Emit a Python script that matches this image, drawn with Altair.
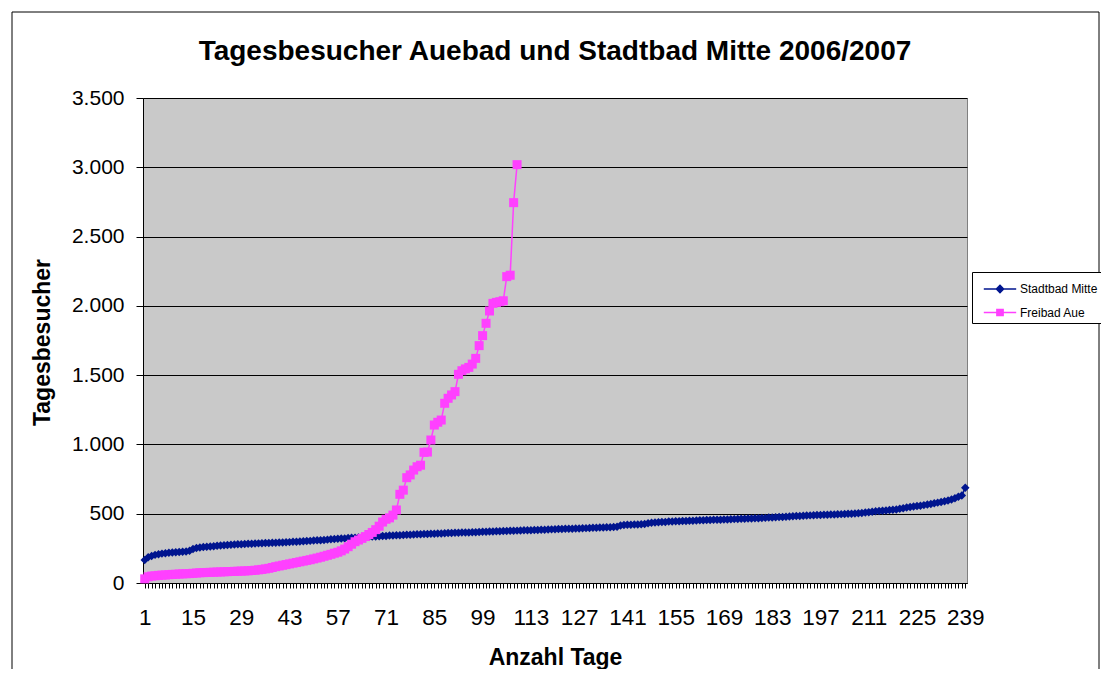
import altair as alt
import pandas as pd

series_names = ["Stadtbad Mitte", "Freibad Aue"]
series_colors = ["#00158F", "#FF40FF"]
series_shapes = ["diamond", "square"]
series_sizes = [72, 81]
legend_shapes = [
    "M-1.35,0H1.35M0,-0.3L0.3,0L0,0.3L-0.3,0Z",
    "M-1.35,0H1.35M-0.26,-0.26H0.26V0.26H-0.26Z",
]

mitte = [
    166, 185, 195, 203, 208, 212, 215, 218, 220, 222,
    224, 226, 228, 232, 245, 252, 256, 259, 262, 264,
    266, 268, 270, 272, 274, 276, 278, 279, 280, 282,
    283, 284, 285, 286, 287, 288, 289, 290, 291, 292,
    293, 294, 295, 297, 298, 300, 301, 303, 304, 306,
    308, 309, 311, 313, 315, 317, 319, 321, 322, 324,
    326, 327, 329, 330, 332, 333, 335, 336, 338, 339,
    340, 342, 343, 344, 345, 347, 348, 349, 350, 351,
    352, 353, 354, 355, 356, 357, 358, 359, 360, 361,
    362, 363, 364, 364, 365, 366, 367, 368, 369, 370,
    371, 372, 373, 374, 375, 376, 377, 377, 378, 379,
    380, 380, 381, 382, 383, 384, 385, 386, 387, 388,
    389, 390, 391, 391, 392, 393, 394, 395, 396, 397,
    398, 399, 400, 401, 402, 403, 404, 406, 415, 418,
    420, 421, 422, 423, 424, 426, 432, 434, 436, 438,
    440, 441, 443, 444, 445, 446, 447, 448, 449, 450,
    451, 452, 453, 454, 455, 456, 456, 457, 458, 459,
    460, 461, 462, 463, 464, 465, 466, 467, 468, 469,
    470, 472, 473, 474, 476, 477, 478, 480, 481, 483,
    484, 486, 487, 488, 489, 490, 491, 492, 493, 494,
    495, 496, 497, 498, 499, 500, 502, 504, 506, 508,
    511, 514, 517, 520, 522, 524, 526, 528, 530, 535,
    540, 545, 548, 552, 555, 558, 562, 566, 570, 575,
    580, 585, 590, 596, 603, 611, 622, 632, 688,
]

aue = [
    30, 45, 50, 52, 55, 57, 58, 60, 62, 63,
    65, 66, 67, 68, 70, 72, 74, 75, 76, 77,
    78, 79, 80, 81, 82, 83, 84, 85, 86, 87,
    88, 90, 92, 95, 98, 102, 106, 112, 118, 123,
    128, 133, 138, 143, 148, 153, 158, 163, 168, 174,
    180, 186, 193, 200, 207, 215, 222, 232, 245, 262,
    280, 298, 310, 322, 335, 350, 365, 385, 410, 440,
    460, 470, 490, 527, 640, 670, 760, 780, 815, 839,
    850, 943, 945, 1032, 1140, 1160, 1176, 1297, 1333, 1357,
    1381, 1506, 1532, 1545, 1556, 1580, 1621, 1713, 1785, 1874,
    1963, 2018, 2025, 2030, 2037, 2211, 2221, 2745, 3019,
]

days_mitte = list(range(1, len(mitte) + 1))
days_aue = list(range(1, len(aue) + 1))
x_ticks = list(range(1, 240))
y_ticks = [0, 500, 1000, 1500, 2000, 2500, 3000, 3500]

df = pd.concat([
    pd.DataFrame({"Tag": days_mitte, "Besucher": mitte, "Serie": series_names[0]}),
    pd.DataFrame({"Tag": days_aue, "Besucher": aue, "Serie": series_names[1]}),
], ignore_index=True)

FONT = "Liberation Sans"

x_enc = alt.X(
    "Tag:Q",
    scale=alt.Scale(domain=[0.5, 239.5], nice=False, zero=False),
    axis=alt.Axis(
        values=x_ticks, tickCount=400,
        labelExpr="(datum.value - 1) % 14 == 0 ? datum.value : ''",
        labelOverlap=False, labelFlush=False,
        labelFont=FONT, labelFontSize=22.5, labelColor="black", labelPadding=18,
        tickSize=5, tickColor="black", domainColor="black", grid=False,
        title="Anzahl Tage", titleFont=FONT, titleFontSize=23, titleFontWeight="bold",
        titleColor="black", titleX=412, titleY=74, titleAlign="center", titleBaseline="middle",
    ),
)
y_enc = alt.Y(
    "Besucher:Q",
    scale=alt.Scale(domain=[0, 3500], nice=False),
    axis=alt.Axis(
        values=y_ticks,
        labelExpr="replace(format(datum.value, ','), ',', '.')",
        labelFont=FONT, labelFontSize=21, labelColor="black", labelPadding=12,
        tickSize=7, tickColor="black", domainColor="black",
        grid=True, gridColor="black", gridWidth=1, gridOpacity=1,
        title="Tagesbesucher", titleFont=FONT, titleFontSize=23, titleFontWeight="bold",
        titleColor="black", titleX=-101, titleY=244, titleAngle=270,
        titleAlign="center", titleBaseline="middle",
    ),
)

base = alt.Chart(df)
layers = []
for name, color, shape, size in zip(series_names, series_colors, series_shapes, series_sizes):
    sub = base.transform_filter(alt.datum.Serie == name)
    layers.append(sub.mark_line(strokeWidth=1.5, color=color).encode(x=x_enc, y=y_enc))
    layers.append(
        sub.mark_point(filled=True, size=size, opacity=1, color=color, shape=shape)
        .encode(x="Tag:Q", y="Besucher:Q")
    )

leg = alt.Legend(
    title=None, orient="none", legendX=829, legendY=174, direction="vertical",
    strokeColor="black", fillColor="white", padding=4,
    labelFont=FONT, labelFontSize=12, labelColor="black", labelOffset=7,
    symbolSize=576, symbolStrokeWidth=1.5, symbolOffset=11, rowPadding=3.5,
    symbolOpacity=1,
)
legend_layer = base.transform_filter("false").mark_point(
    filled=True, size=64, strokeWidth=1.5
).encode(
    x="Tag:Q",
    y="Besucher:Q",
    fill=alt.Fill("Serie:N", scale=alt.Scale(domain=series_names, range=series_colors),
                  legend=leg, sort=series_names),
    stroke=alt.Stroke("Serie:N", scale=alt.Scale(domain=series_names, range=series_colors),
                      legend=leg, sort=series_names),
    shape=alt.Shape("Serie:N", scale=alt.Scale(domain=series_names, range=legend_shapes),
                    legend=leg, sort=series_names),
)

frame = alt.Chart(pd.DataFrame({"f": [0]})).mark_rect(
    fillOpacity=0, stroke="black", strokeWidth=1
).encode(
    x=alt.value(-131), x2=alt.value(956), y=alt.value(-86), y2=alt.value(600)
)

chart = alt.layer(frame, *layers, legend_layer).properties(
    width=824,
    height=485,
    background="white",
    autosize=alt.AutoSizeParams(type="none"),
    padding={"left": 135, "top": 90, "right": 134, "bottom": 86},
    title=alt.TitleParams(
        "Tagesbesucher Auebad und Stadtbad Mitte 2006/2007",
        font=FONT, fontSize=28, fontWeight="bold", color="black",
        anchor="middle", frame="group", baseline="middle", offset=-68,
    ),
).configure_view(
    fill="#C9C9C9", stroke="#808080", strokeWidth=1
)

chart.save("out.html", embed_options={"renderer": "svg", "actions": False})
